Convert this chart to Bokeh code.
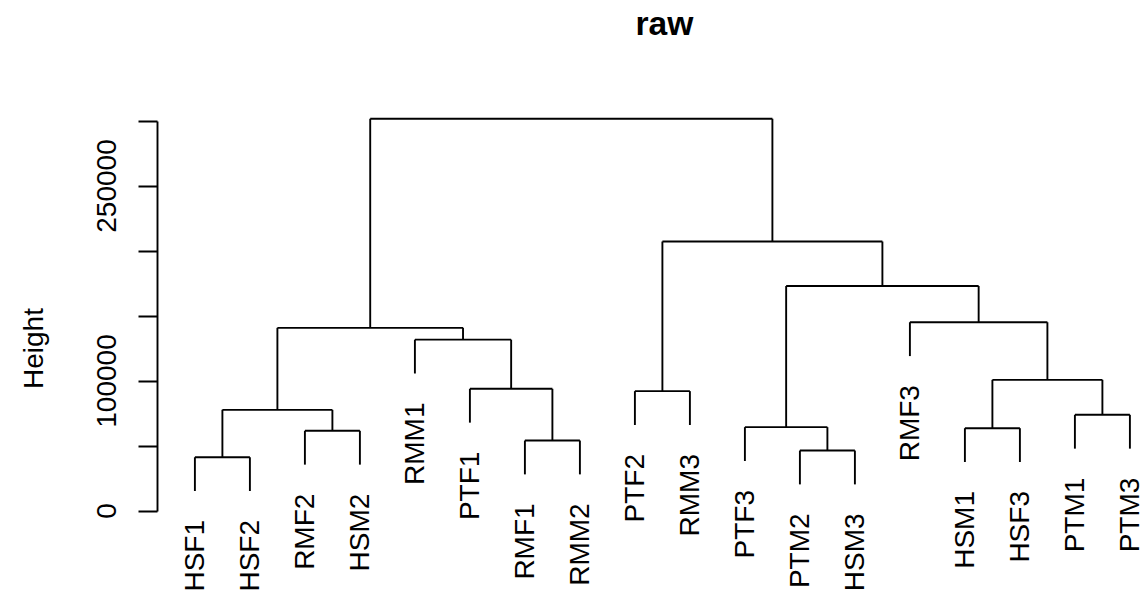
import math

from bokeh.core.properties import value
from bokeh.embed import file_html
from bokeh.models import BasicTickFormatter, ColumnDataSource, FixedTicker, Label, LinearAxis, Range1d, Title
from bokeh.plotting import figure
from bokeh.resources import INLINE

# Leaves in dendrogram order (left to right)
leaf_labels = ["HSF1", "HSF2", "RMF2", "HSM2", "RMM1", "PTF1", "RMF1", "RMM2", "PTF2",
               "RMM3", "PTF3", "PTM2", "HSM3", "RMF3", "HSM1", "HSF3", "PTM1", "PTM3"]

# Agglomeration steps: a child is either a leaf name or the 1-based number of an earlier step
merge_left = ["HSF1", "PTM2", "RMF1", "RMF2", "HSM1", "PTF3", "PTM1", 1, "PTF2",
              "PTF1", 5, "RMM1", 8, "RMF3", 6, 9, 13]
merge_right = ["HSF2", "HSM3", "RMM2", "HSM2", "HSF3", 2, "PTM3", 4, "RMM3",
               3, 7, 10, 12, 11, 14, 15, 16]
merge_height = [41400, 46500, 54200, 61700, 63700, 64500, 74000, 77800, 92200,
                94000, 100900, 131800, 140900, 145200, 173100, 207300, 301700]

# Height axis
y_ticks = [0, 50000, 100000, 150000, 200000, 250000, 300000]
y_tick_labels = ["0", "", "100000", "", "", "250000", ""]

FONT = "Liberation Sans"
W, H = 1141, 600
FRAME_TOP = 41
LEAF_STEP = 55                         # pixels between neighbouring leaves
AXIS_X = 1 - 0.04 * (len(leaf_labels) - 1)   # left edge of the dendrogram region
AXIS_PX = 157
X_START = AXIS_X - AXIS_PX / LEAF_STEP
X_END = X_START + W / LEAF_STEP
Y_START, Y_END = -68846, 361154

# leaves hang below their merge by a tenth of the height span
hang = 0.1 * (max(merge_height) - min(merge_height))

leaf_x = {name: i + 1 for i, name in enumerate(leaf_labels)}
node_x = {}
seg = dict(x0=[], y0=[], x1=[], y1=[])
leaf_end = {}

for k, (a, b, h) in enumerate(zip(merge_left, merge_right, merge_height), start=1):
    xs = []
    for child in (a, b):
        if isinstance(child, str):
            cx, cy = leaf_x[child], h - hang
            leaf_end[child] = cy
        else:
            cx, cy = node_x[child], merge_height[child - 1]
        seg["x0"].append(cx); seg["y0"].append(cy)
        seg["x1"].append(cx); seg["y1"].append(h)
        xs.append(cx)
    seg["x0"].append(xs[0]); seg["y0"].append(h)
    seg["x1"].append(xs[1]); seg["y1"].append(h)
    node_x[k] = (xs[0] + xs[1]) / 2

labels_src = ColumnDataSource(dict(
    x=[leaf_x[n] for n in leaf_labels],
    y=[leaf_end[n] for n in leaf_labels],
    text=leaf_labels,
))

p = figure(width=W, height=H,
           x_range=Range1d(X_START, X_END), y_range=Range1d(Y_START, Y_END),
           x_axis_type=None, y_axis_type=None,
           output_backend="svg", toolbar_location=None,
           min_border_left=0, min_border_right=0,
           min_border_top=FRAME_TOP, min_border_bottom=0)
p.outline_line_color = None
p.background_fill_color = "white"
p.border_fill_color = "white"

p.title = Title(text="raw", align="left", offset=635, standoff=0, vertical_align="bottom",
                text_font=FONT, text_font_size="33.6px", text_font_style="bold", text_color="black")

p.segment(x0="x0", y0="y0", x1="x1", y1="y1", source=ColumnDataSource(seg),
          line_color="black", line_width=1.9)

p.text(x="x", y="y", text="text", source=labels_src, angle=math.pi / 2,
       text_align="right", text_baseline="middle", y_offset=29,
       text_font=value(FONT), text_font_size="28px", text_color="black")

yaxis = LinearAxis(ticker=FixedTicker(ticks=y_ticks), bounds=(0, 300000),
                   fixed_location=AXIS_X,
                   formatter=BasicTickFormatter(use_scientific=False))
yaxis.major_label_overrides = {t: s for t, s in zip(y_ticks, y_tick_labels)}
yaxis.major_label_orientation = "parallel"
yaxis.major_label_text_font = FONT
yaxis.major_label_text_font_size = "28px"
yaxis.major_label_text_color = "black"
yaxis.major_label_standoff = 22
yaxis.major_tick_in = 0
yaxis.major_tick_out = 19
yaxis.minor_tick_out = 0
yaxis.minor_tick_in = 0
yaxis.axis_line_color = "black"
yaxis.axis_line_width = 1.9
yaxis.major_tick_line_color = "black"
yaxis.major_tick_line_width = 1.9
p.add_layout(yaxis, "left")

# axis title, set in the left margin: baseline 33px from the left edge, centred 348px down
p.add_layout(Label(x=X_START + 33 / LEAF_STEP,
                   y=Y_END - (348 - FRAME_TOP) * (Y_END - Y_START) / (H - FRAME_TOP),
                   text="Height", angle=math.pi / 2,
                   text_align="center", text_baseline="alphabetic",
                   text_font=FONT, text_font_size="28px", text_color="black"))

open("out.html", "w").write(file_html(p, INLINE))
